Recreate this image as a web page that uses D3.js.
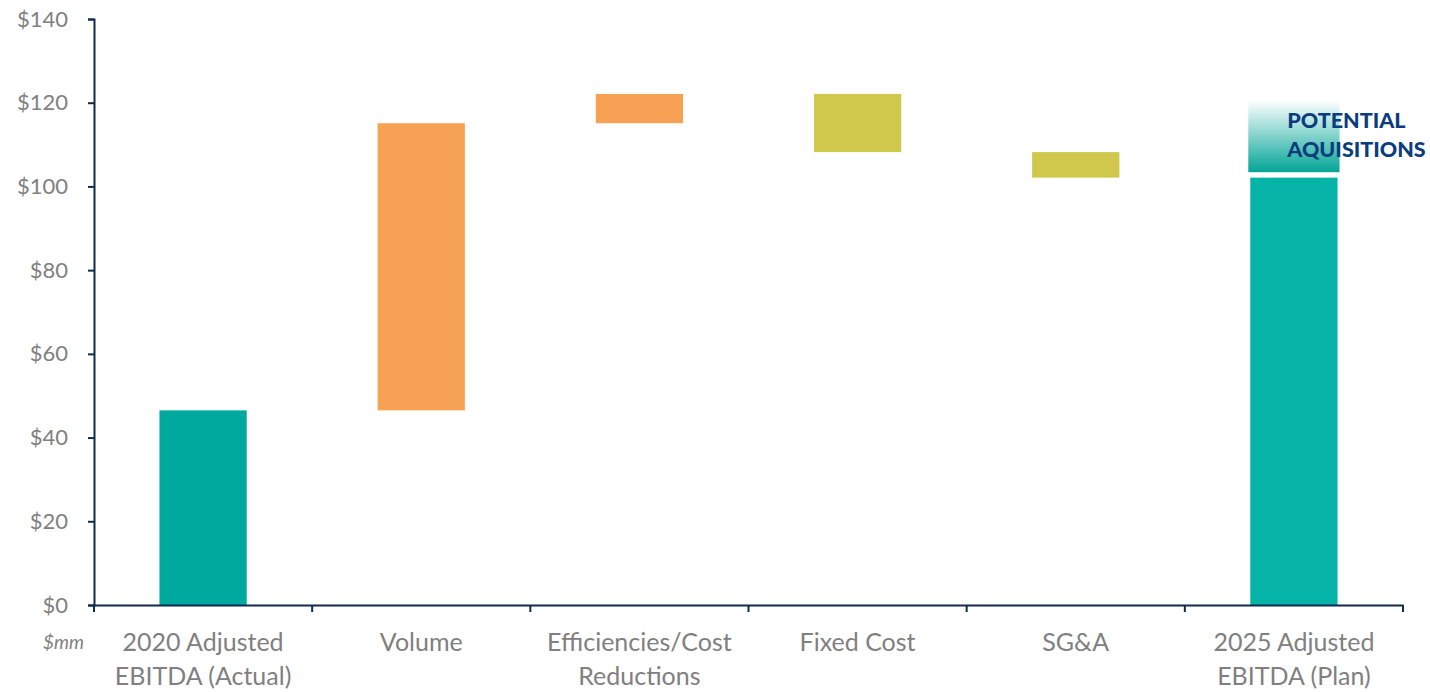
<!DOCTYPE html>
<html>
<head>
<meta charset="utf-8">
<script src="https://cdn.jsdelivr.net/npm/d3@7"></script>
<style>
  body { margin: 0; background: #fff; }
  text { font-family: "Lato", "Noto Sans", sans-serif; }
</style>
</head>
<body>
<div id="chart"></div>
<script>
// chart data ($mm)
var categories = ["2020 Adjusted|EBITDA (Actual)", "Volume", "Efficiencies/Cost|Reductions", "Fixed Cost", "SG&A", "2025 Adjusted|EBITDA (Plan)"];
var deltas = [46.5, 68.6, 7.0, -13.9, -6.1, 0];
var kinds = ["total", "up", "up", "down", "down", "total"];
var colors = { start: "#00A99D", up: "#F7A155", down: "#CFC84D", end: "#05B3A7" };
var acquisitionRange = [103.4, 120.6];
var yTicks = [0, 20, 40, 60, 80, 100, 120, 140];

var width = 1430, height = 692;
var margin = { top: 19, right: 27, bottom: 87, left: 94 };
var w = width - margin.left - margin.right;
var h = height - margin.top - margin.bottom;

var svg = d3.select("#chart").append("svg")
  .attr("width", width)
  .attr("height", height);

var defs = svg.append("defs");
var grad = defs.append("linearGradient")
  .attr("id", "acqGrad")
  .attr("x1", 0).attr("y1", 0).attr("x2", 0).attr("y2", 1);
grad.append("stop").attr("offset", "0%").attr("stop-color", "#ffffff");
grad.append("stop").attr("offset", "100%").attr("stop-color", "#04A597");

var g = svg.append("g")
  .attr("transform", "translate(" + margin.left + "," + margin.top + ")");

var x = d3.scaleBand()
  .domain(categories)
  .range([0, w])
  .paddingInner(0.6)
  .paddingOuter(0.3);

var y = d3.scaleLinear()
  .domain([0, 140])
  .range([h, 0]);

// build waterfall steps
var running = 0;
var steps = categories.map(function(c, i) {
  var s;
  if (i === categories.length - 1) {
    s = { cat: c, y0: 0, y1: running, fill: colors.end };
  } else if (kinds[i] === "total") {
    running = deltas[i];
    s = { cat: c, y0: 0, y1: running, fill: colors.start };
  } else {
    var prev = running;
    running = running + deltas[i];
    s = { cat: c, y0: prev, y1: running, fill: kinds[i] === "up" ? colors.up : colors.down };
  }
  return s;
});

g.selectAll("rect.bar")
  .data(steps)
  .enter()
  .append("rect")
  .attr("class", "bar")
  .attr("x", d => x(d.cat))
  .attr("width", x.bandwidth())
  .attr("y", d => y(Math.max(d.y0, d.y1)))
  .attr("height", d => Math.abs(y(d.y0) - y(d.y1)))
  .attr("fill", d => d.fill);

// potential acquisitions block
var last = categories[categories.length - 1];
g.append("rect")
  .attr("x", x(last) - 2)
  .attr("width", x.bandwidth() + 4)
  .attr("y", y(acquisitionRange[1]))
  .attr("height", y(acquisitionRange[0]) - y(acquisitionRange[1]))
  .attr("fill", "url(#acqGrad)");

var acq = g.append("text")
  .attr("x", x(last) + 37)
  .attr("y", y(acquisitionRange[1]) + 28)
  .attr("fill", "#0B3D7E")
  .style("font-size", "21.5px")
  .style("font-weight", "900");
acq.append("tspan").text("POTENTIAL");
acq.append("tspan").attr("x", x(last) + 37).attr("dy", 29).text("AQUISITIONS");

// y axis
var yAxis = g.append("g")
  .call(d3.axisLeft(y).tickValues(yTicks).tickFormat(d => "$" + d).tickSizeOuter(0).tickSize(6).tickPadding(20));
yAxis.select(".domain").attr("stroke", "#0F2B4C").attr("stroke-width", 2);
yAxis.selectAll(".tick line").attr("stroke", "#0F2B4C").attr("stroke-width", 2);
yAxis.selectAll(".tick text").attr("fill", "#808080").style("font-size", "22px");

// x axis
var xAxis = g.append("g")
  .attr("transform", "translate(0," + h + ")")
  .call(d3.axisBottom(x).tickSize(0).tickSizeOuter(0).tickFormat(""));
xAxis.select(".domain").attr("stroke", "#0F2B4C").attr("stroke-width", 2);

// category separators
var seps = d3.range(categories.length + 1).map(i => i * w / categories.length);
g.selectAll("line.sep")
  .data(seps)
  .enter()
  .append("line")
  .attr("class", "sep")
  .attr("x1", d => d).attr("x2", d => d)
  .attr("y1", h).attr("y2", h + 7)
  .attr("stroke", "#0F2B4C")
  .attr("stroke-width", 2);

// category labels
categories.forEach(function(c) {
  var lines = c.split("|");
  var t = g.append("text")
    .attr("text-anchor", "middle")
    .attr("fill", "#808080")
    .style("font-size", "25px")
    .attr("y", h + 46);
  lines.forEach(function(l, i) {
    t.append("tspan")
      .attr("x", x(c) + x.bandwidth() / 2)
      .attr("dy", i === 0 ? 0 : 34)
      .text(l);
  });
});

// units label
g.append("text")
  .attr("x", -10)
  .attr("y", h + 44)
  .attr("text-anchor", "end")
  .attr("fill", "#808080")
  .style("font-size", "19px")
  .style("font-style", "italic")
  .text("$mm");
</script>
</body>
</html>
